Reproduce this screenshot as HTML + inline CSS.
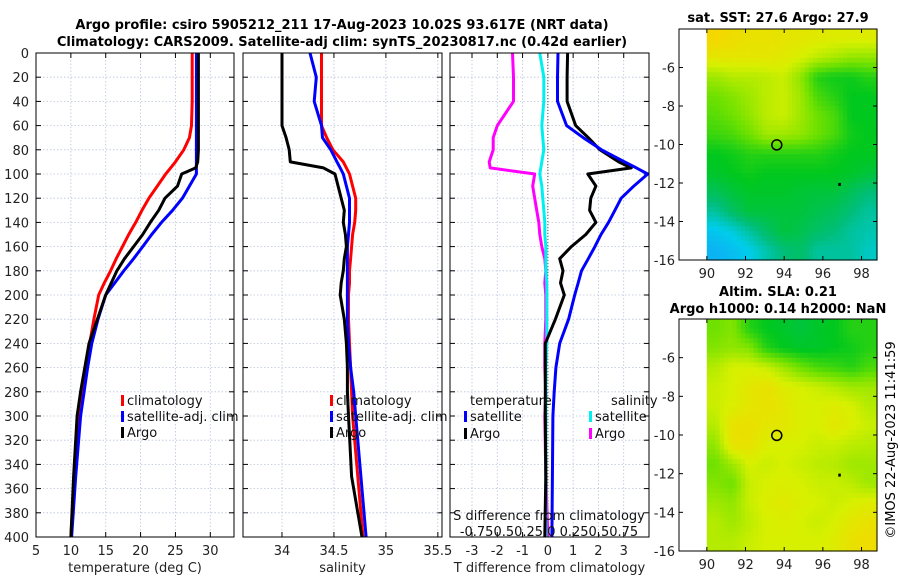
<!DOCTYPE html>
<html><head><meta charset="utf-8"><style>
html,body{margin:0;padding:0;background:#fff;}
svg{display:block;font-family:"DejaVu Sans","Liberation Sans",sans-serif;}
</style></head><body>
<svg id="c" width="900" height="580" viewBox="0 0 900 580" xmlns="http://www.w3.org/2000/svg">
<text x="342" y="29" font-size="13" font-weight="bold" text-anchor="middle">Argo profile: csiro 5905212_211 17-Aug-2023 10.02S 93.617E (NRT data)</text>
<text x="342" y="46" font-size="13" font-weight="bold" text-anchor="middle">Climatology: CARS2009. Satellite-adj clim: synTS_20230817.nc (0.42d earlier)</text>
<text x="778" y="22" font-size="13" font-weight="bold" text-anchor="middle">sat. SST: 27.6 Argo: 27.9</text>
<text x="778" y="296" font-size="13" font-weight="bold" text-anchor="middle">Altim. SLA: 0.21</text>
<text x="778" y="313" font-size="13" font-weight="bold" text-anchor="middle">Argo h1000: 0.14 h2000: NaN</text>
<text transform="translate(895,440) rotate(-90)" font-size="13" text-anchor="middle">©IMOS 22-Aug-2023 11:41:59</text>
<g id="g"></g>
</svg>
<script>
// ---- data ----
const depths = [0,20,40,60,70,80,90,95,100,110,120,130,140,150,160,170,180,190,200,220,240,260,280,300,350,400];
const tClim  = [27.4,27.4,27.4,27.3,27.0,26.2,25.0,24.3,23.6,22.4,21.2,20.2,19.3,18.3,17.4,16.5,15.7,14.8,14.0,13.3,12.7,12.1,11.6,11.1,10.5,10.0];
const tSat   = [28.0,28.0,28.0,28.0,28.0,28.0,28.0,28.0,28.0,27.0,26.0,24.6,23.0,21.6,20.3,19.0,17.6,16.3,15.0,13.9,13.0,12.4,11.9,11.4,10.7,10.1];
const tArgo  = [28.3,28.3,28.3,28.3,28.3,28.3,28.2,27.9,25.9,25.3,23.5,22.6,21.4,20.3,19.0,17.7,16.6,15.8,15.0,13.8,12.6,12.0,11.4,10.9,10.4,10.0];
const sClim  = [34.38,34.38,34.38,34.38,34.43,34.49,34.59,34.62,34.65,34.68,34.71,34.71,34.70,34.68,34.67,34.66,34.65,34.65,34.64,34.64,34.65,34.66,34.67,34.68,34.73,34.78];
const sSat   = [34.27,34.33,34.31,34.38,34.39,34.47,34.53,34.56,34.59,34.62,34.65,34.65,34.65,34.64,34.63,34.63,34.63,34.63,34.63,34.63,34.64,34.66,34.69,34.71,34.76,34.81];
const sArgo  = [34.00,34.00,34.00,34.00,34.04,34.07,34.08,34.40,34.51,34.54,34.57,34.60,34.59,34.61,34.62,34.60,34.59,34.57,34.56,34.60,34.62,34.63,34.63,34.64,34.67,34.77];
const dtSat  = [0.40,0.38,0.38,0.74,1.40,2.12,3.04,3.50,3.95,3.40,2.90,2.65,2.40,2.10,1.86,1.60,1.33,1.20,1.06,0.82,0.47,0.32,0.25,0.20,0.18,0.16];
const dtArgo = [0.78,0.76,0.76,1.10,1.60,2.06,2.80,3.30,1.58,1.90,1.70,1.65,1.90,1.50,0.93,0.47,0.60,0.50,0.65,0.30,-0.10,-0.10,-0.10,-0.10,-0.08,-0.12];
const dsSat  = [-0.08,-0.04,-0.04,-0.06,-0.05,-0.04,-0.06,-0.07,-0.08,-0.06,-0.05,-0.04,-0.03,-0.03,-0.02,-0.02,-0.02,-0.01,-0.01,-0.01,-0.01,-0.02,-0.02,-0.02,-0.02,-0.02];
const dsArgo = [-0.35,-0.34,-0.34,-0.50,-0.54,-0.54,-0.58,-0.57,-0.13,-0.15,-0.13,-0.11,-0.09,-0.08,-0.06,-0.03,-0.02,-0.03,-0.02,-0.02,-0.03,-0.03,-0.02,-0.03,-0.02,0.00];
const yTicks = [0,20,40,60,80,100,120,140,160,180,200,220,240,260,280,300,320,340,360,380,400];
const tTicks = [5,10,15,20,25,30];
const sTicks = [34,34.5,35,35.5];
const dTicks = [-3,-2,-1,0,1,2,3];
const lonTicks = [90,92,94,96,98];
const latTicks = [-6,-8,-10,-12,-14,-16];
const sstGrid = [
[0.9,0.88,0.86,0.86,0.85,0.84,0.83,0.82,0.82,0.82],
[0.84,0.84,0.84,0.84,0.83,0.8,0.76,0.73,0.7,0.7],
[0.72,0.75,0.75,0.76,0.78,0.7,0.55,0.52,0.52,0.55],
[0.65,0.68,0.72,0.76,0.78,0.72,0.6,0.55,0.5,0.5],
[0.62,0.65,0.7,0.76,0.78,0.72,0.65,0.6,0.5,0.5],
[0.58,0.6,0.65,0.72,0.72,0.7,0.65,0.6,0.52,0.5],
[0.5,0.52,0.55,0.55,0.55,0.55,0.55,0.52,0.5,0.5],
[0.48,0.5,0.52,0.5,0.5,0.5,0.5,0.5,0.48,0.45],
[0.4,0.45,0.48,0.48,0.48,0.46,0.45,0.45,0.4,0.35],
[0.3,0.38,0.45,0.45,0.45,0.45,0.42,0.4,0.35,0.3],
[0.18,0.22,0.3,0.38,0.45,0.42,0.38,0.35,0.3,0.28],
[0.12,0.15,0.2,0.28,0.35,0.38,0.3,0.3,0.3,0.25]];
const slaGrid = [
[0.65,0.68,0.55,0.5,0.48,0.45,0.48,0.5,0.55,0.55],
[0.68,0.7,0.68,0.55,0.5,0.48,0.48,0.5,0.52,0.55],
[0.75,0.8,0.8,0.78,0.72,0.65,0.6,0.58,0.55,0.6],
[0.78,0.8,0.84,0.86,0.82,0.8,0.78,0.75,0.72,0.72],
[0.78,0.81,0.84,0.86,0.84,0.81,0.8,0.82,0.8,0.75],
[0.75,0.86,0.87,0.84,0.84,0.81,0.8,0.84,0.81,0.78],
[0.7,0.86,0.86,0.81,0.8,0.8,0.78,0.78,0.76,0.75],
[0.65,0.72,0.8,0.78,0.8,0.78,0.76,0.75,0.72,0.72],
[0.68,0.65,0.78,0.8,0.81,0.8,0.78,0.78,0.76,0.72],
[0.72,0.7,0.78,0.81,0.83,0.81,0.8,0.78,0.8,0.82],
[0.75,0.72,0.76,0.8,0.81,0.8,0.78,0.8,0.84,0.86],
[0.75,0.75,0.78,0.8,0.8,0.8,0.8,0.82,0.86,0.88]];
const argoPos = [93.617,-10.02];

// ---- drawing ----
const NS='http://www.w3.org/2000/svg';
const G=document.getElementById('g');
function mk(tag,attrs,parent){const e=document.createElementNS(NS,tag);for(const k in attrs)e.setAttribute(k,attrs[k]);(parent||G).appendChild(e);return e;}
const Y0=53,Y1=537;
const yS=d=>Y0+(d/400)*(Y1-Y0);
const panels=[
 {name:'temperature',x0:36,x1:234,d0:5,d1:33.4,ticks:tTicks,title:'temperature (deg C)'},
 {name:'salinity',x0:243,x1:442,d0:33.625,d1:35.54,ticks:sTicks,title:'salinity'},
 {name:'difference',x0:450,x1:649,d0:-3.87,d1:4.0,ticks:dTicks,title:'T difference from climatology'}];
panels.forEach(p=>{p.xs=v=>p.x0+(v-p.d0)/(p.d1-p.d0)*(p.x1-p.x0);});
panels.forEach((p,i)=>{
 const g=mk('g',{});
 
 
 yTicks.forEach(t=>{
  const y=yS(t);
  const gl=mk('line',{x1:p.x0,x2:p.x1,y1:y,y2:y,stroke:'#b8c4dc','stroke-width':0.8,'stroke-dasharray':'1.5,2'},g);
  
  
  mk('line',{x1:p.x0,x2:p.x0+5,y1:y,y2:y,stroke:'#000'},g);
  mk('line',{x1:p.x1-5,x2:p.x1,y1:y,y2:y,stroke:'#000'},g);
  if(i===0){const tl=mk('text',{x:29,y:y+5,'font-size':13,'text-anchor':'end',fill:'#222'},g);tl.textContent=t;
   
   }
 });
 p.ticks.forEach(t=>{
  const x=p.xs(t);
  const gl=mk('line',{x1:x,x2:x,y1:Y0,y2:Y1,stroke:'#b8c4dc','stroke-width':0.8,'stroke-dasharray':'1.5,2'},g);
  
  
  mk('line',{x1:x,x2:x,y1:Y0,y2:Y0+5,stroke:'#000'},g);
  mk('line',{x1:x,x2:x,y1:Y1-5,y2:Y1,stroke:'#000'},g);
  const tl=mk('text',{x:x,y:555,'font-size':13,'text-anchor':'middle',fill:'#222'},g);tl.textContent=t;
  
  
 });
 const at=mk('text',{x:(p.x0+p.x1)/2,y:572,'font-size':13,'text-anchor':'middle',fill:'#222'},g);at.textContent=p.title;
 
 
});
{const x=panels[2].xs(0);const z=mk('line',{x1:x,x2:x,y1:Y0,y2:Y1,stroke:'#555','stroke-width':1,'stroke-dasharray':'1,2'});
 
 }
function series(p,vals,color,name,scale){
 const pts=vals.map((v,k)=>p.xs(v*(scale||1)).toFixed(1)+','+yS(depths[k]).toFixed(1)).join(' ');
 const l=mk('polyline',{points:pts,fill:'none',stroke:color,'stroke-width':3,'stroke-linejoin':'round'});
 
 
}
const P=panels;
series(P[0],tClim,'#ff0000','temp-climatology-line');
series(P[0],tSat,'#0000ff','temp-satellite-line');
series(P[0],tArgo,'#000','temp-argo-line');
series(P[1],sClim,'#ff0000','sal-climatology-line');
series(P[1],sSat,'#0000ff','sal-satellite-line');
series(P[1],sArgo,'#000','sal-argo-line');
series(P[2],dsArgo,'#ff00ff','sdiff-argo-line',4);
series(P[2],dsSat,'#00f0f0','sdiff-satellite-line',4);
series(P[2],dtArgo,'#000','tdiff-argo-line');
series(P[2],dtSat,'#0000ff','tdiff-satellite-line');
mk('rect',{x:650,y:40,width:6,height:500,fill:'#fff'});
panels.forEach(p=>{const r=mk('rect',{x:p.x0,y:Y0,width:p.x1-p.x0,height:Y1-Y0,fill:'none',stroke:'#000','stroke-width':1});
 
 });
function leg(x,y,color,label,name){
 const g=mk('g',{});
 
 
 if(color)mk('rect',{x:x-6,y:y-10,width:3,height:11,fill:color},g);
 const t=mk('text',{x:x,y:y,'font-size':13,fill:'#111'},g);t.textContent=label;
}
[[122,'#ff0000','climatology'],[122,'#0000ff','satellite-adj. clim'],[122,'#000','Argo']].forEach((e,k)=>leg(e[0]+5,405+k*16,e[1],e[2],'legend-temp-'+k));
[[331,'#ff0000','climatology'],[331,'#0000ff','satellite-adj. clim'],[331,'#000','Argo']].forEach((e,k)=>leg(e[0]+5,405+k*16,e[1],e[2],'legend-sal-'+k));
leg(470,405,null,'temperature','legend-temperature-header');
leg(470,421,'#0000ff','satellite','legend-tdiff-satellite');
leg(470,438,'#000','Argo','legend-tdiff-argo');
leg(611,405,null,'salinity','legend-salinity-header');
leg(595,421,'#00f0f0','satellite','legend-sdiff-satellite');
leg(595,438,'#ff00ff','Argo','legend-sdiff-argo');
{const t=mk('text',{x:549,y:520,'font-size':13,'text-anchor':'middle',fill:'#111'});t.textContent='S difference from climatology';
 
 const t2=mk('text',{x:549,y:536,'font-size':13,'text-anchor':'middle',fill:'#111'});t2.textContent='-0.750.50.25 0 0.250.50.75';
 }
// ---- maps ----
const stops=[[0,[30,140,255]],[0.2,[0,205,235]],[0.35,[0,190,120]],[0.5,[0,200,30]],[0.65,[110,225,0]],[0.8,[215,240,0]],[0.9,[245,215,0]],[1,[250,175,0]]];
function cmap(v){v=Math.max(0,Math.min(1,v));for(let i=1;i<stops.length;i++){if(v<=stops[i][0]){const a=stops[i-1],b=stops[i],f=(v-a[0])/(b[0]-a[0]);return 'rgb('+a[1].map((c,j)=>Math.round(c+(b[1][j]-c)*f)).join(',')+')';}}return 'rgb(250,175,0)';}
function drawMap(grid,top,bot,name){
 const x0=679,x1=877,lon0=88.56,lon1=98.8;
 const lonS=v=>x0+(v-lon0)/(lon1-lon0)*(x1-x0);
 const latS=v=>top+(-4-v)/12*(bot-top);
 const g=mk('g',{});
 
 
 const R=grid.length,C=grid[0].length,sub=4;
 const lonStep=(98.8-90)/C;
 for(let r=0;r<R*sub;r++)for(let c=0;c<C*sub;c++){
  const fr=Math.min(R-1.001,Math.max(0,(r+0.5)/sub-0.5)),fc=Math.min(C-1.001,Math.max(0,(c+0.5)/sub-0.5));
  const r0=Math.floor(fr),c0=Math.floor(fc),ar=fr-r0,ac=fc-c0;
  const v=grid[r0][c0]*(1-ar)*(1-ac)+grid[r0+1][c0]*ar*(1-ac)+grid[r0][c0+1]*(1-ar)*ac+grid[r0+1][c0+1]*ar*ac;
  const xa=lonS(90+c*lonStep/sub),xb=lonS(90+(c+1)*lonStep/sub);
  const ya=latS(-4-r/sub),yb=latS(-4-(r+1)/sub);
  const cell=mk('rect',{x:xa.toFixed(1),y:ya.toFixed(1),width:(xb-xa+0.6).toFixed(1),height:(yb-ya+0.6).toFixed(1),fill:cmap(v)},g);
  
  
 }
 mk('rect',{x:x0,y:top,width:x1-x0,height:bot-top,fill:'none',stroke:'#000'},g);
 lonTicks.forEach(t=>{const x=lonS(t);mk('line',{x1:x,x2:x,y1:bot,y2:bot-4,stroke:'#000'},g);mk('line',{x1:x,x2:x,y1:top,y2:top+4,stroke:'#000'},g);
  const tl=mk('text',{x:x,y:bot+18,'font-size':13,'text-anchor':'middle',fill:'#222'},g);tl.textContent=t;
  });
 latTicks.forEach(t=>{const y=latS(t);mk('line',{x1:x1,x2:x1-4,y1:y,y2:y,stroke:'#000'},g);mk('line',{x1:x0,x2:x0+4,y1:y,y2:y,stroke:'#000'},g);
  const tl=mk('text',{x:675,y:y+5,'font-size':13,'text-anchor':'end',fill:'#222'},g);tl.textContent=t;
  });
 const m=mk('circle',{cx:lonS(argoPos[0]),cy:latS(argoPos[1]),r:5,fill:'none',stroke:'#000','stroke-width':1.5},g);
 
 
 mk('rect',{x:lonS(96.85)-1,y:latS(-12.1)-2,width:2.5,height:3,fill:'#000'},g);
}
drawMap(sstGrid,29,260,'sst-map');
drawMap(slaGrid,319,551,'sla-map');
</script>
</body></html>
